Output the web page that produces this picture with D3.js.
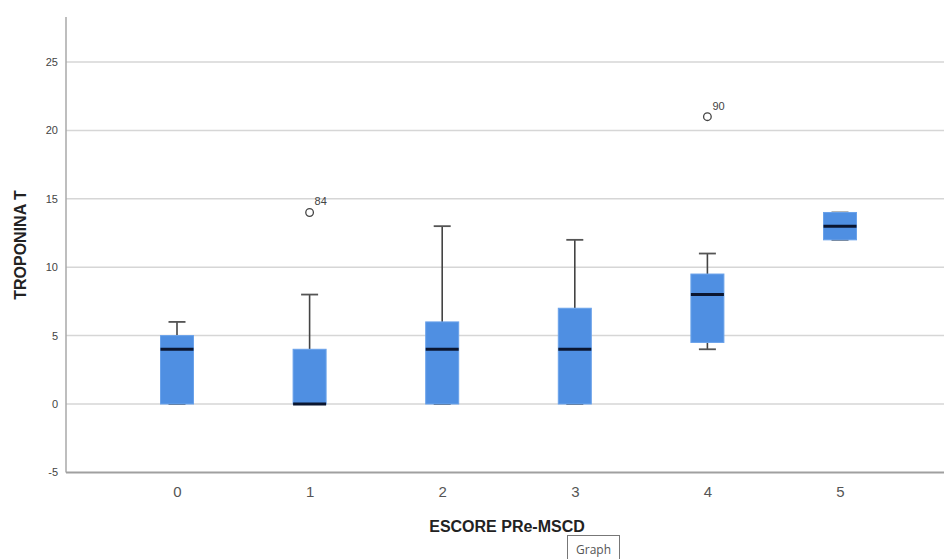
<!DOCTYPE html>
<html><head><meta charset="utf-8">
<script src="https://cdn.jsdelivr.net/npm/d3@7"></script>
<style>body{margin:0;background:#fff;overflow:hidden}svg{display:block}</style>
</head><body>
<script>
const categories = ["0","1","2","3","4","5"];
const whiskerLow = [0, 0, 0, 0, 4, 12];
const q1 = [0, 0, 0, 0, 4.5, 12];
const median = [4, 0, 4, 4, 8, 13];
const q3 = [5, 4, 6, 7, 9.5, 14];
const whiskerHigh = [6, 8, 13, 12, 11, 14];
const outlierCat = ["1", "4"];
const outlierVal = [14, 21];
const outlierLabel = ["84", "90"];
const yTicks = [-5, 0, 5, 10, 15, 20, 25];

const W = 944, H = 559;
const svg = d3.select("body").append("svg").attr("width", W).attr("height", H);

const y = d3.scaleLinear().domain([-5, 25]).range([472.4, 62]);
const x = d3.scalePoint().domain(categories).range([177, 840]);
const axisX = 66, topY = 17;

// gridlines
svg.append("g").selectAll("line").data(yTicks.filter(d => d > -5)).join("line")
  .attr("x1", axisX).attr("x2", W).attr("y1", d => y(d)).attr("y2", d => y(d))
  .attr("stroke", "#d6d6d6").attr("stroke-width", 1.5);

// y axis
const yAxis = d3.axisLeft(y).tickValues(yTicks).tickFormat(d => String(d)).tickSize(0).tickPadding(8);
const gy = svg.append("g").attr("transform", `translate(${axisX},0)`).call(yAxis);
gy.select(".domain").remove();
gy.selectAll("text").attr("font-family", "Liberation Sans, Arial, sans-serif")
  .attr("font-size", 11).attr("fill", "#444");
svg.append("line").attr("x1", axisX).attr("x2", axisX).attr("y1", topY).attr("y2", y(-5))
  .attr("stroke", "#a8a8a8").attr("stroke-width", 1.5);

// x axis
const xAxis = d3.axisBottom(x).tickSize(0).tickPadding(14);
const gx = svg.append("g").attr("transform", `translate(0,${y(-5)})`).call(xAxis);
gx.select(".domain").remove();
gx.selectAll("text").attr("font-family", "Liberation Sans, Arial, sans-serif")
  .attr("font-size", 15).attr("fill", "#555");
svg.append("line").attr("x1", axisX).attr("x2", W).attr("y1", y(-5)).attr("y2", y(-5))
  .attr("stroke", "#a0a0a0").attr("stroke-width", 2);

// axis titles
svg.append("text").attr("x", 507).attr("y", 532).attr("text-anchor", "middle")
  .attr("font-family", "Liberation Sans, Arial, sans-serif").attr("font-weight", "bold")
  .attr("font-size", 16).attr("fill", "#222").text("ESCORE PRe-MSCD");
svg.append("text").attr("transform", "translate(26,245) rotate(-90)").attr("text-anchor", "middle")
  .attr("font-family", "Liberation Sans, Arial, sans-serif").attr("font-weight", "bold")
  .attr("font-size", 16).attr("fill", "#222").text("TROPONINA T");

// boxes
const data = categories.map((c, i) => ({c, lo: whiskerLow[i], q1: q1[i], med: median[i], q3: q3[i], hi: whiskerHigh[i]}));
const bw = 33, cw = 17;
const g = svg.append("g");
data.forEach(d => {
  const cx = x(d.c);
  if (d.hi > d.q3) {
    g.append("line").attr("x1", cx).attr("x2", cx).attr("y1", y(d.q3)).attr("y2", y(d.hi)).attr("stroke", "#444").attr("stroke-width", 1.6);
  }
  if (d.lo < d.q1) {
    g.append("line").attr("x1", cx).attr("x2", cx).attr("y1", y(d.q1)).attr("y2", y(d.lo)).attr("stroke", "#444").attr("stroke-width", 1.6);
  }
  g.append("line").attr("x1", cx - cw / 2).attr("x2", cx + cw / 2).attr("y1", y(d.hi)).attr("y2", y(d.hi)).attr("stroke", "#555").attr("stroke-width", 1.8);
  g.append("line").attr("x1", cx - cw / 2).attr("x2", cx + cw / 2).attr("y1", y(d.lo)).attr("y2", y(d.lo)).attr("stroke", "#555").attr("stroke-width", 1.8);
  g.append("rect").attr("x", cx - bw / 2).attr("width", bw)
    .attr("y", y(d.q3)).attr("height", Math.max(0, y(d.q1) - y(d.q3)))
    .attr("fill", "#4f8fe2").attr("stroke", "#6aa2ea").attr("stroke-width", 1);
  g.append("line").attr("x1", cx - bw / 2).attr("x2", cx + bw / 2).attr("y1", y(d.med)).attr("y2", y(d.med))
    .attr("stroke", "#0b1630").attr("stroke-width", 3);
});

// outliers
outlierCat.forEach((c, i) => {
  const cx = x(c), cy = y(outlierVal[i]);
  g.append("circle").attr("cx", cx).attr("cy", cy).attr("r", 3.8)
    .attr("fill", "none").attr("stroke", "#444").attr("stroke-width", 1.3);
  g.append("text").attr("x", cx + 5).attr("y", cy - 7)
    .attr("font-family", "Liberation Sans, Arial, sans-serif").attr("font-size", 11).attr("fill", "#444")
    .text(outlierLabel[i]);
});

// "Graph" label box
const gb = svg.append("g");
gb.append("rect").attr("x", 567.5).attr("y", 535.5).attr("width", 52).attr("height", 30)
  .attr("fill", "#fff").attr("stroke", "#777").attr("stroke-width", 1);
gb.append("text").attr("x", 593.5).attr("y", 554).attr("text-anchor", "middle")
  .attr("font-family", "Open Sans, sans-serif").attr("font-size", 12).attr("fill", "#555").text("Graph");
</script>
</body></html>
